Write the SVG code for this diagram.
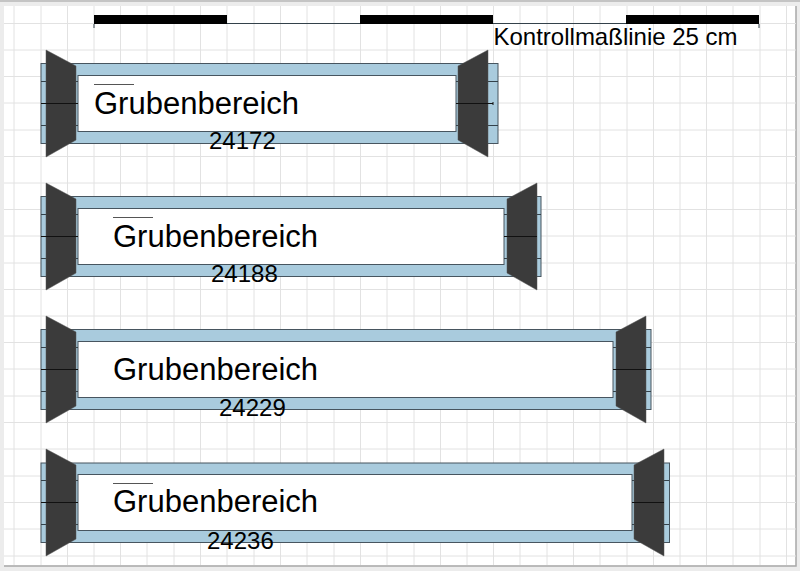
<svg xmlns="http://www.w3.org/2000/svg" width="800" height="571" viewBox="0 0 800 571">
<style>
.grid{stroke:#e2e2e2;stroke-width:1;fill:none}
.frame{fill:#a9cbdd;stroke:#47555f;stroke-width:1}
.inner{fill:#fff;stroke:#47555f;stroke-width:1}
.trap{fill:#3b3b3b;stroke:#555;stroke-width:.5}
.ln{stroke:#33414a;stroke-width:1;fill:none}
.mid{stroke:#111;stroke-width:1;fill:none}
.t{font-family:"Liberation Sans",Arial,sans-serif;fill:#000}
.big{font-size:31px}
.num{font-size:24px}
.over{stroke:#555;stroke-width:1}
.bar{fill:#000}
</style>
<rect width="800" height="571" fill="#ececec"/>
<rect width="800" height="2" fill="#c4c4c4"/>
<rect x="4" y="6" width="792" height="559.500" fill="#fff"/>
<path d="M4 566H796V6" fill="none" stroke="#a8a8a8" stroke-width="1.500"/>
<path class="grid" d="M14 6V565M41 6V565M67.500 6V565M94 6V565M120.500 6V565M147 6V565M174 6V565M200.500 6V565M227 6V565M254 6V565M280.500 6V565M307 6V565M334 6V565M360.500 6V565M387 6V565M414 6V565M440.500 6V565M467 6V565M493.500 6V565M520 6V565M547 6V565M573.500 6V565M600 6V565M627 6V565M653.500 6V565M680 6V565M706.500 6V565M733 6V565M760 6V565M786.500 6V565"/>
<path class="grid" d="M4 23.500H796M4 50H796M4 76.500H796M4 103H796M4 130H796M4 156.500H796M4 183H796M4 209.500H796M4 236H796M4 263H796M4 289.500H796M4 316H796M4 342.500H796M4 369H796M4 396H796M4 422.500H796M4 449H796M4 476H796M4 502.500H796M4 529H796M4 556H796"/>

<g id="scale">
<path class="ln" d="M94 23.500H759M94 24V28M759 24V28"/>
<rect class="bar" x="94" y="15" width="133" height="9"/>
<rect class="bar" x="360" y="15" width="133" height="9"/>
<rect class="bar" x="626" y="15" width="133" height="9"/>
<text class="t num" x="493.500" y="45">Kontrollmaßlinie 25 cm</text>
</g>

<g id="row1">
<rect class="frame" x="41" y="63.500" width="457" height="80"/>
<rect class="inner" x="78" y="75.500" width="378" height="56"/>
<path class="ln" d="M41 81.500H78M41 125.500H78M456 81.500H498M456 125.500H498"/>
<path class="trap" d="M46 50L76 66V140L46 157Z"/>
<path class="trap" d="M458 66L488 50V157L458 140Z"/>
<path class="mid" d="M41 103.500H78M456 103.500H493M493 102V105"/>
<path class="over" d="M94 84.500H134"/>
<text class="t big" x="94" y="113.500">Grubenbereich</text>
<text class="t num" x="209" y="148.500">24172</text>
</g>

<g id="row2">
<rect class="frame" x="41" y="196.500" width="500" height="80"/>
<rect class="inner" x="78" y="208.500" width="426" height="56"/>
<path class="ln" d="M41 214.500H78M41 258.500H78M504 214.500H541M504 258.500H541"/>
<path class="trap" d="M46 183L76 199V273L46 290Z"/>
<path class="trap" d="M507 199L537 183V290L507 273Z"/>
<path class="mid" d="M41 236.500H78M504 236.500H537"/>
<path class="over" d="M113 217.500H153"/>
<text class="t big" x="113" y="246.500">Grubenbereich</text>
<text class="t num" x="211" y="281.500">24188</text>
</g>

<g id="row3">
<rect class="frame" x="41" y="329.500" width="610" height="80"/>
<rect class="inner" x="78" y="341.500" width="535" height="56"/>
<path class="ln" d="M41 347.500H78M41 391.500H78M613 347.500H651M613 391.500H651"/>
<path class="trap" d="M46 316L76 332V406L46 423Z"/>
<path class="trap" d="M616 332L646 316V423L616 406Z"/>
<path class="mid" d="M41 369.500H78M613 369.500H651"/>
<text class="t big" x="113" y="379.500">Grubenbereich</text>
<text class="t num" x="219" y="416">24229</text>
</g>

<g id="row4">
<rect class="frame" x="41" y="463" width="628.500" height="79.500"/>
<rect class="inner" x="78" y="474.500" width="554" height="56"/>
<path class="ln" d="M41 480.500H78M41 524.500H78M632 480.500H669M632 524.500H669"/>
<path class="trap" d="M46 449L76 465V539L46 556Z"/>
<path class="trap" d="M634 465L664 449V556L634 539Z"/>
<path class="mid" d="M41 502.500H78M632 502.500H664"/>
<path class="over" d="M113 483.500H153"/>
<text class="t big" x="113" y="511.500">Grubenbereich</text>
<text class="t num" x="207" y="549">24236</text>
</g>
</svg>
